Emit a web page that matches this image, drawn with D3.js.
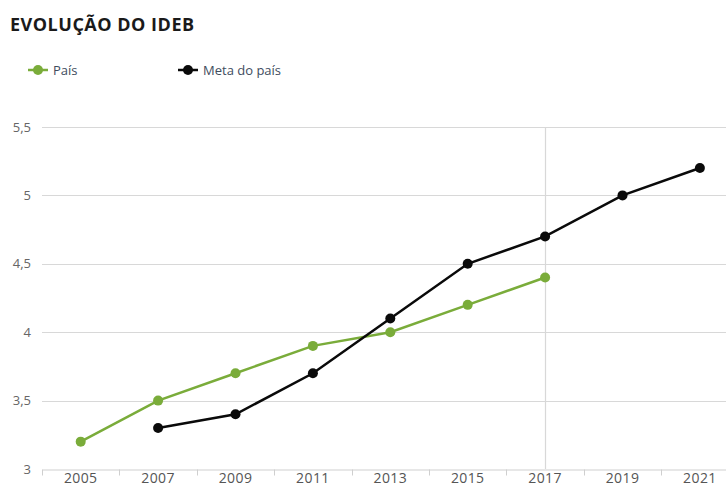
<!DOCTYPE html>
<html>
<head>
<meta charset="utf-8">
<script src="https://cdn.jsdelivr.net/npm/d3@7"></script>
<style>
  body { margin: 0; background: #fff; }
  svg { display: block; font-family: "Open Sans", sans-serif; }
</style>
</head>
<body>
<svg id="chart" width="726" height="487"></svg>
<script>
// IDEB yearly values for the country and its official goal
const years = ["2005", "2007", "2009", "2011", "2013", "2015", "2017", "2019", "2021"];
const paisValues = [3.2, 3.5, 3.7, 3.9, 4.0, 4.2, 4.4, null, null];
const metaValues = [null, 3.3, 3.4, 3.7, 4.1, 4.5, 4.7, 5.0, 5.2];
const yTicks = [3, 3.5, 4, 4.5, 5, 5.5];
const highlightYear = "2017";

const seriesNames = ["País", "Meta do país"];
const seriesColors = ["#7aac3a", "#0a0a0a"];

const svg = d3.select("#chart");
const margin = { left: 42, top: 127, bottom: 469 };
const bandWidth = 77.4;

const x = d3.scaleBand()
  .domain(years)
  .range([margin.left, margin.left + bandWidth * years.length]);

const y = d3.scaleLinear()
  .domain([3, 5.5])
  .range([margin.bottom, margin.top]);

const fmt = v => String(v).replace(".", ",");

// horizontal grid
svg.append("g")
  .selectAll("line")
  .data(yTicks.filter(t => t > 3))
  .join("line")
  .attr("x1", margin.left)
  .attr("x2", 726)
  .attr("y1", d => Math.round(y(d)) + 0.5)
  .attr("y2", d => Math.round(y(d)) + 0.5)
  .attr("stroke", "#d8d8d8")
  .attr("stroke-width", 1);

// highlighted year
svg.append("line")
  .attr("x1", Math.round(x(highlightYear) + x.bandwidth() / 2) + 0.5)
  .attr("x2", Math.round(x(highlightYear) + x.bandwidth() / 2) + 0.5)
  .attr("y1", margin.top)
  .attr("y2", margin.bottom)
  .attr("stroke", "#d8d8d8")
  .attr("stroke-width", 1.2);

// y labels
svg.append("g")
  .selectAll("text")
  .data(yTicks)
  .join("text")
  .attr("x", 31)
  .attr("y", d => y(d) + 4.5)
  .attr("text-anchor", "end")
  .attr("font-size", 13)
  .attr("fill", "#666")
  .text(fmt);

// x axis
const xAxis = d3.axisBottom(x).tickSize(0).tickPadding(0);
const gx = svg.append("g")
  .attr("transform", `translate(0,${margin.bottom + 0.5})`)
  .call(xAxis);
gx.select(".domain").attr("stroke", "#cfcfcf");
gx.selectAll(".tick text")
  .attr("font-size", 14)
  .attr("font-family", "'Open Sans', sans-serif")
  .attr("letter-spacing", 0.4)
  .attr("fill", "#555")
  .attr("y", 13)
  .attr("dy", 0);
// tick marks on band boundaries
gx.append("g")
  .selectAll("line")
  .data(years)
  .join("line")
  .attr("x1", d => Math.round(x(d)) + 0.5)
  .attr("x2", d => Math.round(x(d)) + 0.5)
  .attr("y1", 0)
  .attr("y2", 6)
  .attr("stroke", "#cfcfcf");

// series lines and markers
const allSeries = [paisValues, metaValues];
const line = d3.line()
  .defined(d => d.v != null)
  .x(d => x(d.year) + x.bandwidth() / 2)
  .y(d => y(d.v));

allSeries.forEach((vals, i) => {
  const pts = years.map((year, j) => ({ year, v: vals[j] }));
  svg.append("path")
    .datum(pts)
    .attr("fill", "none")
    .attr("stroke", seriesColors[i])
    .attr("stroke-width", 2.5)
    .attr("d", line);
  svg.append("g")
    .selectAll("circle")
    .data(pts.filter(p => p.v != null))
    .join("circle")
    .attr("cx", d => x(d.year) + x.bandwidth() / 2)
    .attr("cy", d => y(d.v))
    .attr("r", 5)
    .attr("fill", seriesColors[i]);
});

// title
svg.append("text")
  .attr("x", 10)
  .attr("y", 31)
  .attr("font-size", 18)
  .attr("font-weight", "bold")
  .attr("letter-spacing", 0.5)
  .attr("fill", "#1a1a1a")
  .text("EVOLUÇÃO DO IDEB");

// legend
const legendX = [28, 178];
seriesNames.forEach((name, i) => {
  const g = svg.append("g").attr("transform", `translate(${legendX[i]},70)`);
  g.append("line").attr("x1", 0).attr("x2", 20).attr("y1", 0).attr("y2", 0)
    .attr("stroke", seriesColors[i]).attr("stroke-width", 2.5);
  g.append("circle").attr("cx", 10).attr("cy", 0).attr("r", 5).attr("fill", seriesColors[i]);
  g.append("text").attr("x", 25).attr("y", 4.5)
    .attr("font-size", 13).attr("fill", "#3e4c5e").text(name);
});
</script>
</body>
</html>
